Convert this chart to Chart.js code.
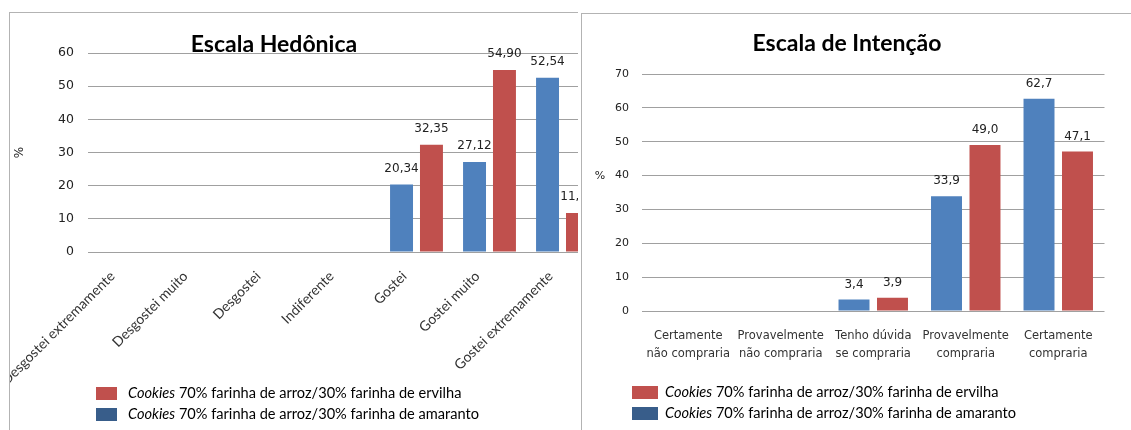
<!DOCTYPE html>
<html lang="pt">
<head>
<meta charset="utf-8">
<title>Escala Hedônica e Escala de Intenção</title>
<script src="https://cdn.jsdelivr.net/npm/chart.js@4.4.0/dist/chart.umd.min.js"></script>
<style>
  html, body { margin: 0; padding: 0; background: #fff; }
  body { width: 1131px; height: 430px; position: relative; overflow: hidden; }
  .frame { position: absolute; border-left: 1px solid #b3b3b3; border-top: 1px solid #b3b3b3; overflow: hidden; }
  #frameLeft { left: 9px; top: 12px; width: 568px; height: 418px; }
  #frameRight { left: 581px; top: 13px; width: 550px; height: 417px; }
  .plot { position: absolute; left: 0; top: 0; }
  #plotLeft { width: 620px; height: 417px; }
  #plotRight { width: 549px; height: 416px; }
  .title { position: absolute; font: bold 23px Lato, sans-serif; color: #000; transform: translate(-50%, -50%); white-space: nowrap; }
  .unit { position: absolute; font: 11px "DejaVu Sans", sans-serif; color: #222; transform: translate(-50%, -50%); }
  .legend { position: absolute; font: 14.6px Lato, sans-serif; color: #000; }
  .legend div { height: 21px; line-height: 21px; white-space: nowrap; }
  .legend .box { display: inline-block; height: 13px; vertical-align: middle; position: relative; top: -1px; }
  #legendLeft { left: 96px; top: 382px; }
  #legendLeft .box { width: 21px; margin-right: 11px; }
  #legendRight { left: 632px; top: 381px; }
  #legendRight .box { width: 26px; margin-right: 7px; }
</style>
</head>
<body>
<div class="frame" id="frameLeft"><div class="plot" id="plotLeft"><canvas id="hedonica"></canvas></div></div>
<div class="frame" id="frameRight"><div class="plot" id="plotRight"><canvas id="intencao"></canvas></div></div>
<div class="title" style="left:274px; top:43px">Escala Hedônica</div>
<div class="title" style="left:847px; top:42px">Escala de Intenção</div>
<div class="unit" style="left:600px; top:175px">%</div>
<div class="legend" id="legendLeft"></div>
<div class="legend" id="legendRight"></div>
<script>
const seriesErvilha = 'Cookies 70% farinha de arroz/30% farinha de ervilha';
const seriesAmaranto = 'Cookies 70% farinha de arroz/30% farinha de amaranto';

const hedonicCategories = ['Desgostei extremamente', 'Desgostei muito', 'Desgostei', 'Indiferente', 'Gostei', 'Gostei muito', 'Gostei extremamente'];
const hedonicAmaranto = [0, 0, 0, 0, 20.34, 27.12, 52.54];
const hedonicErvilha = [0, 0, 0, 0, 32.35, 54.90, 11.76];
const hedonicTicks = [0, 10, 20, 30, 40, 50, 60];

const intentCategories = [
    ['Certamente', 'não compraria'],
    ['Provavelmente', 'não compraria'],
    ['Tenho dúvida', 'se compraria'],
    ['Provavelmente', 'compraria'],
    ['Certamente', 'compraria']
];
const intentAmaranto = [0, 0, 3.4, 33.9, 62.7];
const intentErvilha = [0, 0, 3.9, 49.0, 47.1];
const intentTicks = [0, 10, 20, 30, 40, 50, 60, 70];

const BLUE = '#4F81BD';
const BLUE_LEGEND = '#385D8A';
const RED = '#C0504D';

// numbers above the bars, with a decimal comma
const valueLabels = {
    id: 'valueLabels',
    afterDatasetsDraw(chart, args, opts) {
        const { ctx } = chart;
        ctx.save();
        ctx.font = opts.font;
        ctx.fillStyle = opts.color;
        ctx.textAlign = 'center';
        ctx.textBaseline = 'middle';
        chart.data.datasets.forEach((ds, i) => {
            chart.getDatasetMeta(i).data.forEach((bar, j) => {
                const v = ds.data[j];
                if (!v) return;
                ctx.fillText(v.toFixed(opts.decimals).replace('.', ','), bar.x, bar.y - opts.offset);
            });
        });
        ctx.restore();
    }
};

function buildLegend(chart, el) {
    el.innerHTML = chart.data.datasets.slice().reverse().map(ds =>
        `<div><span class="box" style="background:${ds.legendColor}"></span>${ds.label.replace('Cookies', '<i>Cookies</i>')}</div>`
    ).join('');
}

function createBarChart(ctx, { labels, amaranto, ervilha, ticks, catPct, barPct, padding, xHeight, yWidth, xTicks, yTicks, yTitle, values }) {
    const bar = { categoryPercentage: catPct, barPercentage: barPct };
    return new Chart(ctx, {
        type: 'bar',
        data: {
            labels,
            datasets: [
                { label: seriesAmaranto, data: amaranto, backgroundColor: BLUE, legendColor: BLUE_LEGEND, ...bar },
                { label: seriesErvilha, data: ervilha, backgroundColor: RED, legendColor: RED, ...bar }
            ]
        },
        options: {
            animation: false,
            responsive: true,
            maintainAspectRatio: false,
            devicePixelRatio: 1,
            layout: { padding },
            scales: {
                x: {
                    grid: { display: false },
                    border: { display: false },
                    ticks: { autoSkip: false, color: '#333', ...xTicks },
                    afterFit(s) { s.height = xHeight; s.paddingLeft = 0; s.paddingRight = 0; }
                },
                y: {
                    min: ticks[0],
                    max: ticks[ticks.length - 1],
                    ticks: { stepSize: ticks[1] - ticks[0], color: '#222', ...yTicks },
                    grid: { color: '#a0a0a0', drawTicks: false },
                    border: { display: false },
                    title: yTitle,
                    afterFit(s) { s.width = yWidth; s.paddingTop = 0; s.paddingBottom = 0; }
                }
            },
            plugins: {
                legend: { display: false },
                tooltip: { enabled: false },
                valueLabels: values
            }
        },
        plugins: [valueLabels]
    });
}

const hedonica = createBarChart(document.getElementById('hedonica'), {
    labels: hedonicCategories,
    amaranto: hedonicAmaranto,
    ervilha: hedonicErvilha,
    ticks: hedonicTicks,
    catPct: 0.82,
    barPct: 0.767,
    padding: { left: 0, top: 40, right: 31, bottom: 0 },
    xHeight: 178,
    yWidth: 78,
    xTicks: { minRotation: 45, maxRotation: 45, labelOffset: -12, padding: 8, font: { family: 'Lato', size: 14 } },
    yTicks: { padding: 14, font: { family: 'DejaVu Sans', size: 12.5 } },
    yTitle: { display: true, text: '%', color: '#222', padding: 3, font: { family: 'DejaVu Sans', size: 12 } },
    values: { font: '12px "DejaVu Sans"', color: '#222', decimals: 2, offset: 16 }
});

const intencao = createBarChart(document.getElementById('intencao'), {
    labels: intentCategories,
    amaranto: intentAmaranto,
    ervilha: intentErvilha,
    ticks: intentTicks,
    catPct: 0.832,
    barPct: 0.805,
    padding: { left: 0, top: 60, right: 26.5, bottom: 0 },
    xHeight: 119,
    yWidth: 60,
    xTicks: { maxRotation: 0, padding: 8, font: { family: 'DejaVu Sans', size: 11.5, lineHeight: 1.55 } },
    yTicks: { padding: 13, font: { family: 'DejaVu Sans', size: 11 } },
    yTitle: { display: false },
    values: { font: '12px "DejaVu Sans"', color: '#222', decimals: 1, offset: 15 }
});

buildLegend(hedonica, document.getElementById('legendLeft'));
buildLegend(intencao, document.getElementById('legendRight'));
</script>
</body>
</html>
